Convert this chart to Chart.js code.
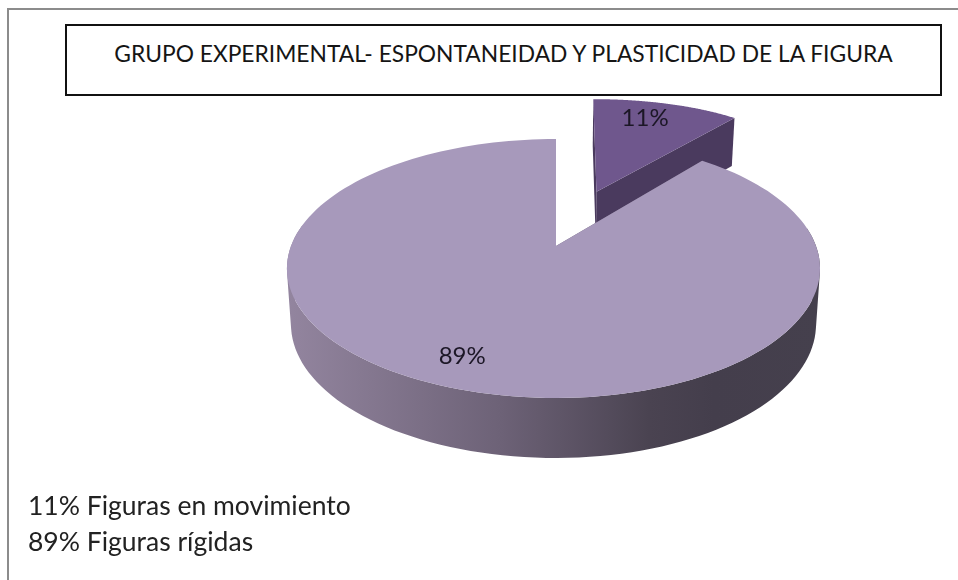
<!DOCTYPE html>
<html>
<head>
<meta charset="utf-8">
<script src="https://cdn.jsdelivr.net/npm/chart.js@4"></script>
<style>
  html, body { margin: 0; padding: 0; background: #fff; }
  body { width: 958px; height: 580px; position: relative; overflow: hidden; font-family: Lato, sans-serif; color: #151515; }
  #frame { position: absolute; left: 7px; top: 8px; width: 960px; height: 600px; border: 2px solid #8c8c8c; box-sizing: border-box; }
  #chartCanvas { position: absolute; left: 0; top: 0; }
  #titleBox { position: absolute; left: 65px; top: 24px; width: 877px; height: 72px; box-sizing: border-box; border: 2px solid #111; background: #fff; font-size: 22.8px; text-align: center; line-height: 54px; white-space: nowrap; }
  #note { position: absolute; left: 28px; top: 487px; font-size: 26.5px; line-height: 36px; white-space: nowrap; color: #222; }
</style>
</head>
<body>
<div id="frame"></div>
<canvas id="chartCanvas" width="958" height="580"></canvas>
<div id="titleBox"></div>
<div id="note"></div>

<script>
const chartTitle = "GRUPO EXPERIMENTAL- ESPONTANEIDAD Y PLASTICIDAD DE LA FIGURA";
const categories = ["Figuras en movimiento", "Figuras rígidas"];
const percentages = [11, 89];

const topColors = ["#6f578d", "#a799bb"];
const sideColors = ["#4a3a5e", "#6b5f76"];
const explode = [0.497, 0];
const labelNudge = [[-9, 0], [-10, 0]];

// ---- TEXT ----
document.getElementById("titleBox").innerText = chartTitle;
document.getElementById("note").innerHTML = categories
  .map((c, i) => `${percentages[i]}% ${c}`)
  .join("<br>");

// ---- PERSPECTIVE OF THE DISC ----
// u, v are on the flat disc (radius 1), v grows towards the viewer
const originX = 556;
const persp = 0.1737;

function project(u, v) {
  const w = 1 - persp * v;
  const wx = 1 - persp * Math.max(v, -1);
  const r = u < 0 ? 265 : 260;
  return { x: originX + (r * u) / wx, y: (246 + 82.85 * v) / w };
}

function projectDown(u, v) {
  const p = project(u, v);
  return {
    x: originX + (p.x - originX) * 0.985,
    y: p.y + 54.6 + 5.4 * v,
  };
}

function sliceOutline(arc, i) {
  const dir = (arc.startAngle + arc.endAngle) / 2;
  const cu = explode[i] * Math.cos(dir);
  const cv = explode[i] * Math.sin(dir);
  const rim = [];
  const steps = 160;
  for (let s = 0; s <= steps; s++) {
    const a = arc.startAngle + ((arc.endAngle - arc.startAngle) * s) / steps;
    rim.push([cu + Math.cos(a), cv + Math.sin(a)]);
  }
  return { center: [cu, cv], rim };
}

function fillPath(ctx, points, color) {
  ctx.beginPath();
  points.forEach((p, n) => (n ? ctx.lineTo(p.x, p.y) : ctx.moveTo(p.x, p.y)));
  ctx.closePath();
  ctx.fillStyle = color;
  ctx.fill();
}

function addQuad(ctx, quad) {
  // same winding for every quad, so the union fills without seams
  let area = 0;
  quad.forEach((p, n) => {
    const q = quad[(n + 1) % quad.length];
    area += p.x * q.y - q.x * p.y;
  });
  const pts = area < 0 ? quad.slice().reverse() : quad;
  pts.forEach((p, n) => (n ? ctx.lineTo(p.x, p.y) : ctx.moveTo(p.x, p.y)));
  ctx.closePath();
}

function drawWalls(ctx, shape, i, rimFill) {
  const c = shape.center;
  const first = shape.rim[0];
  const last = shape.rim[shape.rim.length - 1];
  [first, last].forEach((edge) => {
    fillPath(ctx, [
      project(c[0], c[1]),
      project(edge[0], edge[1]),
      projectDown(edge[0], edge[1]),
      projectDown(c[0], c[1]),
    ], sideColors[i]);
  });
  // only the part of the rim that faces the viewer
  ctx.beginPath();
  for (let s = 0; s < shape.rim.length - 1; s++) {
    const a = shape.rim[s];
    const b = shape.rim[s + 1];
    if (a[1] < -0.15) continue;
    addQuad(ctx, [
      project(a[0], a[1]),
      project(b[0], b[1]),
      projectDown(b[0], b[1]),
      projectDown(a[0], a[1]),
    ]);
  }
  ctx.fillStyle = rimFill;
  ctx.fill();
}

// ---- DRAW PIE IN 3D FROM THE ARC ELEMENTS ----
const pie3d = {
  id: "pie3d",
  beforeDatasetDraw(chart) {
    const ctx = chart.ctx;
    const arcs = chart.getDatasetMeta(0).data;
    const shapes = arcs.map((arc, i) => sliceOutline(arc, i));

    const shade = ctx.createLinearGradient(287, 0, 820, 0);
    shade.addColorStop(0, "#93859f");
    shade.addColorStop(0.4, "#6d6277");
    shade.addColorStop(0.68, "#4a4351");
    shade.addColorStop(0.8, "#443e4c");
    shade.addColorStop(1, "#45404d");

    arcs.forEach((arc, i) => {
      const rimFill = i === 1 ? shade : sideColors[i];
      drawWalls(ctx, shapes[i], i, rimFill);
      const c = shapes[i].center;
      const pts = [project(c[0], c[1])].concat(
        shapes[i].rim.map((p) => project(p[0], p[1]))
      );
      fillPath(ctx, pts, topColors[i]);
    });

    // percent labels
    ctx.font = "24px Lato, sans-serif";
    ctx.fillStyle = "#1c1726";
    ctx.textAlign = "center";
    ctx.textBaseline = "middle";
    arcs.forEach((arc, i) => {
      const dir = (arc.startAngle + arc.endAngle) / 2;
      const c = shapes[i].center;
      const p = project(c[0] + 0.81 * Math.cos(dir), c[1] + 0.81 * Math.sin(dir));
      ctx.fillText(percentages[i] + "%", p.x + labelNudge[i][0], p.y + labelNudge[i][1]);
    });
    return false;
  },
};

// ---- CHART ----
const ctx = document.getElementById("chartCanvas").getContext("2d");
const pieChart = new Chart(ctx, {
  type: "pie",
  data: {
    labels: categories,
    datasets: [
      {
        data: percentages,
        backgroundColor: topColors,
        borderWidth: 0,
      },
    ],
  },
  options: {
    responsive: false,
    animation: false,
    plugins: {
      legend: { display: false },
      title: { display: false },
      tooltip: { enabled: false },
    },
  },
  plugins: [pie3d],
});
</script>
</body>
</html>
